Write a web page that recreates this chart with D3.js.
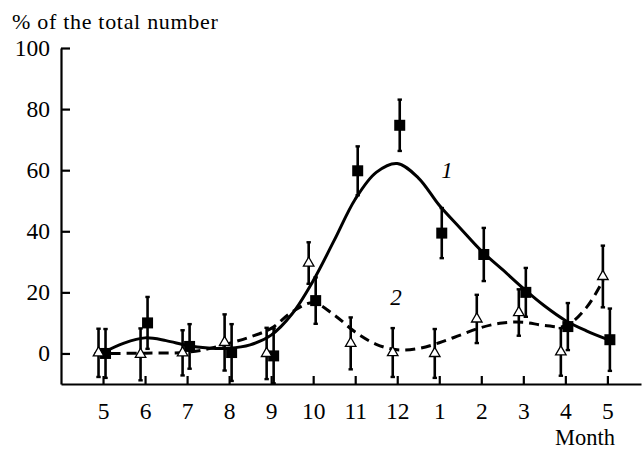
<!DOCTYPE html>
<html>
<head>
<meta charset="utf-8">
<script src="https://cdn.jsdelivr.net/npm/d3@7"></script>
<style>
  body { margin: 0; background: #fff; }
  svg text { font-family: 'Liberation Serif', 'Times New Roman', Times, serif; fill: #000; }
</style>
</head>
<body>
<div id="chart-area"></div>
<script>
// month labels along the x axis (one season from May to May)
var months = ["5", "6", "7", "8", "9", "10", "11", "12", "1", "2", "3", "4", "5"];

// series 1 (filled squares) and its error
var sq = [0, 10, 2.3, 0.3, -0.8, 17.3, 59.8, 74.7, 39.4, 32.4, 20, 8.8, 4.5];
var sqErr = [8, 8.5, 7.3, 9.3, 9, 7.6, 8, 8.4, 8.2, 8.7, 8, 7.7, 10.2];

// series 2 (open triangles) and its error
var tri = [0.2, -0.3, 0.2, 3.6, 0, 29.6, 3.3, 0.3, 0, 11.3, 13.4, 0.5, 25.2];
var triErr = [7.9, 8.5, 7.4, 9.2, 8.4, 6.8, 8.5, 8, 8, 7.9, 7.6, 7.8, 10.1];

// fitted curves, [month index, value]
var fit1 = [[0, 0.3], [0.5, 3.4], [1, 5.1], [1.5, 4.2], [2, 2.6], [2.5, 1.8], [3, 1.7],
  [3.5, 2.8], [4, 6], [4.5, 13], [5, 23.8], [5.5, 37], [6, 50.5], [6.5, 59.3], [7, 62.2],
  [7.5, 57.5], [8, 48.5], [8.5, 41], [9, 33.6], [9.5, 27.5], [10, 21.3], [10.5, 15.6],
  [11, 10.8], [11.5, 7.4], [12, 4.6]];
var fit2 = [[-0.2, 0], [0, 0], [1, 0.1], [2, 0.4], [2.5, 1.5], [3, 3.3], [3.5, 5.4], [4, 8.2],
  [4.5, 13.6], [5, 16.6], [5.5, 12.6], [6, 7], [6.5, 3], [7, 1.2], [7.5, 1.6], [8, 3.5],
  [8.5, 6], [9, 8.5], [9.5, 10], [10, 10.2], [10.5, 9.2], [11, 9], [11.5, 15], [11.9, 24]];

var yTicks = [0, 20, 40, 60, 80, 100];

var W = 643, H = 449;

var svg = d3.select("#chart-area")
  .append("svg")
  .attr("width", W)
  .attr("height", H);

var x = d3.scaleLinear().domain([-1, 12.8]).range([61, 641]);
var y = d3.scaleLinear().domain([-10, 100]).range([384, 48]);

var xAxis = svg.append("g")
  .attr("transform", "translate(0," + y(-10) + ")")
  .call(d3.axisBottom(x)
    .tickValues(d3.range(months.length))
    .tickFormat(function(i) { return months[i]; })
    .tickSize(-8)
    .tickSizeOuter(0)
    .tickPadding(18));

var yAxis = svg.append("g")
  .attr("transform", "translate(" + x(-1) + ",0)")
  .call(d3.axisLeft(y)
    .tickValues(yTicks)
    .tickSize(-9)
    .tickSizeOuter(0)
    .tickPadding(11));

svg.selectAll(".domain, .tick line")
  .attr("stroke", "#000")
  .attr("stroke-width", 2.2);
svg.selectAll("g").attr("font-family", null);
svg.selectAll(".tick text")
  .attr("font-size", "23.5px");

svg.append("text")
  .attr("x", 12)
  .attr("y", 29)
  .attr("font-size", "22px")
  .attr("letter-spacing", "0.7px")
  .text("% of the total number");

svg.append("text")
  .attr("x", 615)
  .attr("y", 445)
  .attr("text-anchor", "end")
  .attr("font-size", "22.5px")
  .text("Month");

var dx1 = 2.5, dx2 = -4.5;

// error bars
function errBars(vals, errs, dx) {
  var g = svg.append("g").attr("stroke", "#000");
  vals.forEach(function(v, i) {
    var cx = x(i) + dx;
    g.append("line")
      .attr("x1", cx).attr("x2", cx)
      .attr("y1", y(v - errs[i])).attr("y2", y(v + errs[i]))
      .attr("stroke-width", 2.6);
    [v - errs[i], v + errs[i]].forEach(function(e) {
      g.append("line")
        .attr("x1", cx - 2.2).attr("x2", cx + 2.2)
        .attr("y1", y(e)).attr("y2", y(e))
        .attr("stroke-width", 2.4);
    });
  });
}
errBars(tri, triErr, dx2);
errBars(sq, sqErr, dx1);

var line = d3.line()
  .x(function(d) { return x(d[0]); })
  .y(function(d) { return y(d[1]); })
  .curve(d3.curveCatmullRom);

svg.append("path")
  .attr("d", line(fit1))
  .attr("fill", "none")
  .attr("stroke", "#000")
  .attr("stroke-width", 3);

svg.append("path")
  .attr("d", line(fit2))
  .attr("fill", "none")
  .attr("stroke", "#000")
  .attr("stroke-width", 3)
  .attr("stroke-dasharray", "10,6");

// markers
svg.selectAll(".sq")
  .data(sq)
  .enter().append("rect")
  .attr("x", function(d, i) { return x(i) + dx1 - 5.5; })
  .attr("y", function(d) { return y(d) - 5.5; })
  .attr("width", 11)
  .attr("height", 11)
  .attr("fill", "#000");

svg.selectAll(".tri")
  .data(tri)
  .enter().append("path")
  .attr("transform", function(d, i) { return "translate(" + (x(i) + dx2) + "," + y(d) + ")"; })
  .attr("d", d3.symbol().type(d3.symbolTriangle).size(48))
  .attr("fill", "#fff")
  .attr("stroke", "#000")
  .attr("stroke-width", 1.3);

svg.append("text")
  .attr("x", 447)
  .attr("y", 178)
  .attr("text-anchor", "middle")
  .attr("font-size", "23px")
  .attr("font-style", "italic")
  .text("1");

svg.append("text")
  .attr("x", 396)
  .attr("y", 305)
  .attr("text-anchor", "middle")
  .attr("font-size", "23px")
  .attr("font-style", "italic")
  .text("2");
</script>
</body>
</html>
